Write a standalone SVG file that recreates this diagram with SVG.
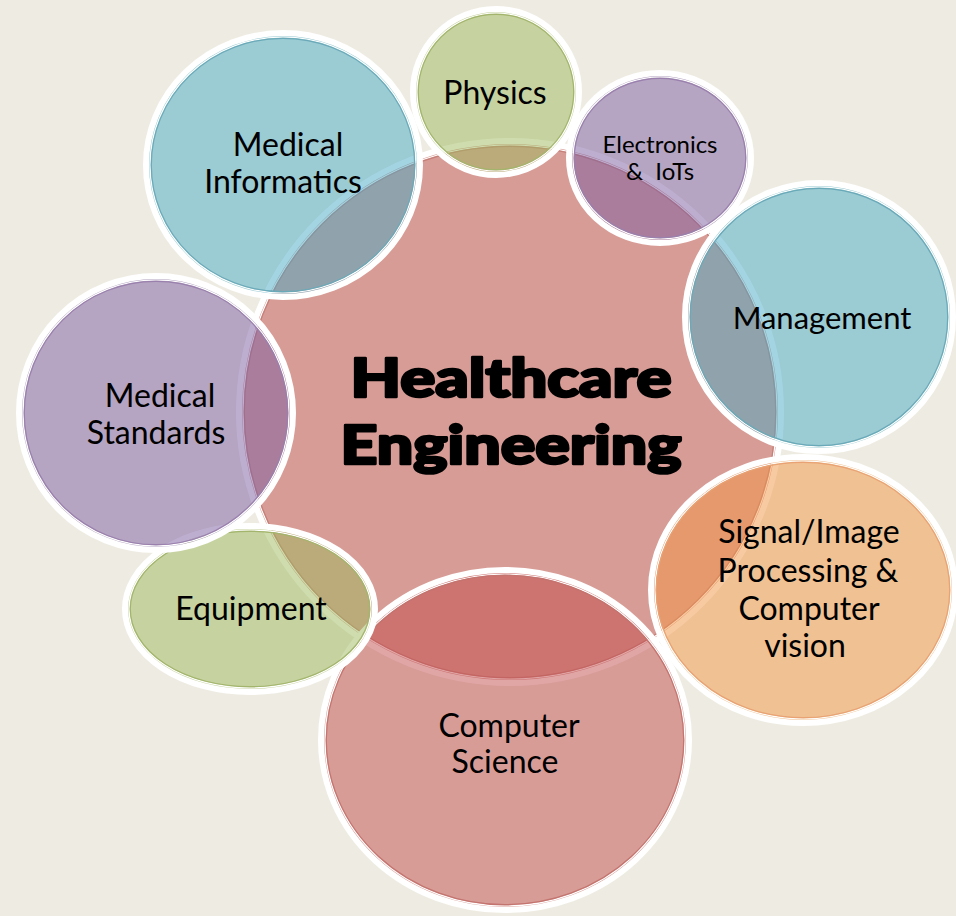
<svg xmlns="http://www.w3.org/2000/svg" width="956" height="916" viewBox="0 0 956 916">
<style>
.lbl{font-family:Lato,"Open Sans","Liberation Sans",sans-serif;font-size:32px;fill:#000;text-anchor:middle}
.sm{font-size:24px}
.big{font-family:Lato,Roboto,"Liberation Sans",sans-serif;font-weight:900;font-size:53px;fill:#000;stroke:#000;stroke-width:2.6;stroke-linejoin:round;text-anchor:middle}
.wr{fill:none;stroke:#fff;stroke-width:6}
.wl{fill:none;stroke:#fff;stroke-width:1.2}
.dl{fill:none;stroke-width:1.2}
.blue{fill:rgb(72,170,196);fill-opacity:.5}
.purple{fill:rgb(124,94,162);fill-opacity:.5}
.green{fill:rgb(158,186,94);fill-opacity:.5}
.orange{fill:rgb(242,150,68);fill-opacity:.5}
.red{fill:rgb(194,76,76);fill-opacity:.5}
</style>
<rect width="956" height="916" fill="#eeece2"/>
<g id="connectors"/>
<g id="central">
<circle cx="510" cy="412" r="271" fill="#d89c96"/>
<circle class="wr" cx="510" cy="412" r="271"/>
<circle class="wl" cx="510" cy="412" r="267"/>
<circle class="dl" stroke="#c47f79" cx="510" cy="412" r="265.7"/>
<text class="big" x="511" y="397" textLength="321" lengthAdjust="spacingAndGlyphs">Healthcare</text>
<text class="big" x="511" y="464" textLength="341" lengthAdjust="spacingAndGlyphs">Engineering</text>
</g>
<g id="medical-informatics">
<ellipse class="blue" cx="283" cy="165" rx="137" ry="132"/>
<ellipse class="wr" cx="283" cy="165" rx="137" ry="132"/>
<ellipse class="wl" cx="283" cy="165" rx="133" ry="128"/>
<ellipse class="dl" stroke="#6aa9b8" cx="283" cy="165" rx="131.7" ry="126.7"/>
<text class="lbl" x="288" y="156">Medical</text>
<text class="lbl" x="283" y="193">Informatics</text>
</g>
<g id="physics">
<circle class="green" cx="496" cy="92" r="83"/>
<circle class="wr" cx="496" cy="92" r="83"/>
<circle class="wl" cx="496" cy="92" r="79"/>
<circle class="dl" stroke="#a3b56c" cx="496" cy="92" r="77.7"/>
<text class="lbl" x="495" y="104">Physics</text>
</g>
<g id="electronics">
<ellipse class="purple" cx="660" cy="158" rx="91" ry="85"/>
<ellipse class="wr" cx="660" cy="158" rx="91" ry="85"/>
<ellipse class="wl" cx="660" cy="158" rx="87" ry="81"/>
<ellipse class="dl" stroke="#9a80ad" cx="660" cy="158" rx="85.7" ry="79.7"/>
<text class="lbl sm" x="660" y="153">Electronics</text>
<text class="lbl sm" x="660" y="180" xml:space="preserve">&amp;  IoTs</text>
</g>
<g id="management">
<circle class="blue" cx="819" cy="317" r="134"/>
<circle class="wr" cx="819" cy="317" r="134"/>
<circle class="wl" cx="819" cy="317" r="130"/>
<circle class="dl" stroke="#6aa9b8" cx="819" cy="317" r="128.7"/>
<text class="lbl" x="822" y="329" style="font-size:31px">Management</text>
</g>
<g id="signal-image">
<ellipse class="orange" cx="803" cy="590" rx="152" ry="133"/>
<ellipse class="wr" cx="803" cy="590" rx="152" ry="133"/>
<ellipse class="wl" cx="803" cy="590" rx="148" ry="129"/>
<ellipse class="dl" stroke="#e8a273" cx="803" cy="590" rx="146.7" ry="127.7"/>
<text class="lbl" x="809" y="543">Signal/Image</text>
<text class="lbl" x="808" y="582">Processing &amp;</text>
<text class="lbl" x="809" y="620">Computer</text>
<text class="lbl" x="805" y="657">vision</text>
</g>
<g id="computer-science">
<ellipse class="red" cx="505" cy="740" rx="184" ry="170"/>
<ellipse class="wr" cx="505" cy="740" rx="184" ry="170"/>
<ellipse class="wl" cx="505" cy="740" rx="180" ry="166"/>
<ellipse class="dl" stroke="#c4746f" cx="505" cy="740" rx="178.7" ry="164.7"/>
<text class="lbl" x="509" y="737">Computer</text>
<text class="lbl" x="505" y="773">Science</text>
</g>
<g id="equipment">
<ellipse class="green" cx="250" cy="609" rx="125" ry="83"/>
<ellipse class="wr" cx="250" cy="609" rx="125" ry="83"/>
<ellipse class="wl" cx="250" cy="609" rx="121" ry="79"/>
<ellipse class="dl" stroke="#a3b56c" cx="250" cy="609" rx="119.7" ry="77.7"/>
<text class="lbl" x="251" y="620">Equipment</text>
</g>
<g id="medical-standards">
<circle class="purple" cx="156" cy="413" r="137"/>
<circle class="wr" cx="156" cy="413" r="137"/>
<circle class="wl" cx="156" cy="413" r="133"/>
<circle class="dl" stroke="#9a80ad" cx="156" cy="413" r="131.7"/>
<text class="lbl" x="160" y="407">Medical</text>
<text class="lbl" x="156" y="444">Standards</text>
</g>
</svg>
